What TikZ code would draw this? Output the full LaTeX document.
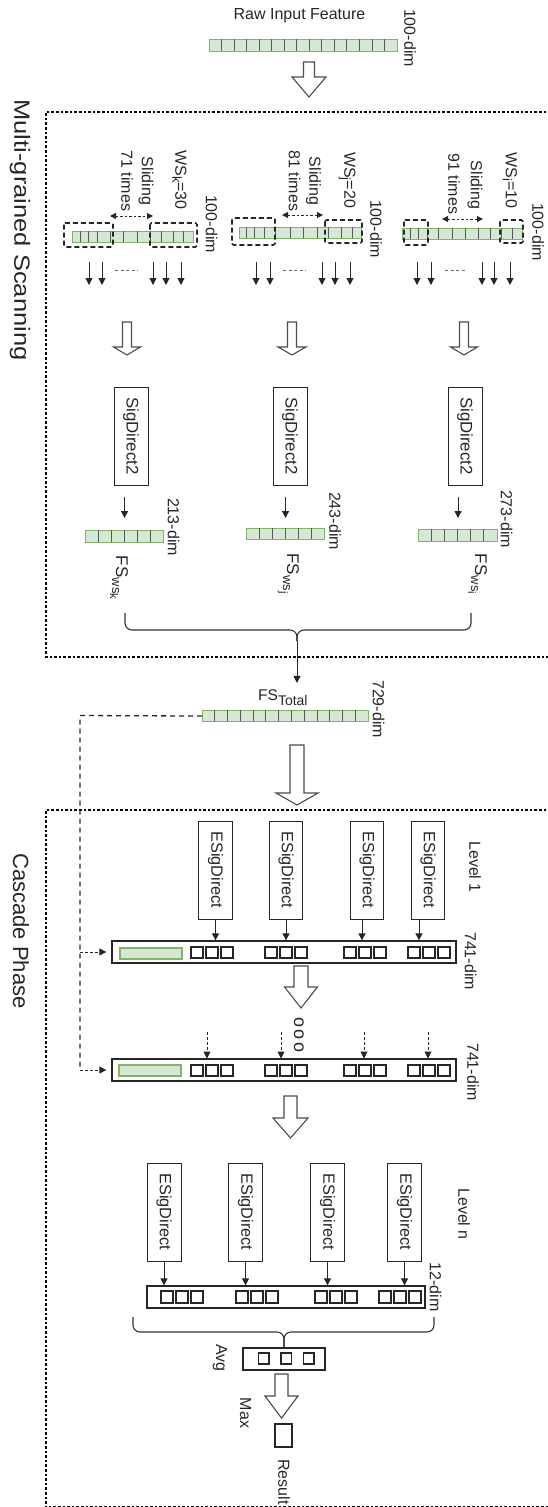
\documentclass[tikz,border=0pt]{standalone}
\usepackage{fontspec}
\setmainfont{Liberation Sans}
\usetikzlibrary{arrows.meta}
\definecolor{gfill}{HTML}{D5E8D4}
\definecolor{gline}{HTML}{82B366}
\definecolor{tx}{HTML}{262626}
\newcommand\fsz[1]{\fontsize{#1}{#1}\selectfont}
\newcommand\vt[1]{\rotatebox{-90}{#1}}
\tikzset{
 txt/.style={inner sep=0pt, text=tx, font=\fsz{16}},
 dotbox/.style={line width=2.6pt, dash pattern=on 2.6pt off 2pt, draw=black},
 winbox/.style={draw=black!85, line width=1.7pt, dash pattern=on 5pt off 3pt, rounded corners=1.5pt},
 gbar/.style={fill=gfill, draw=gline, line width=1.1pt},
 cellline/.style={draw=black!65, line width=0.8pt},
 procbox/.style={draw=black!85, line width=0.9pt, inner sep=0pt, text=tx, font=\fsz{16.3}},
 rowbox/.style={draw=tx, line width=1.3pt, inner sep=0pt},
 sq/.style={draw=tx, line width=1.2pt},
 harrow/.style={draw=black!70, line width=1.1pt, fill=white, line join=miter},
 arr/.style={-{Triangle[length=7pt,width=7pt]}, line width=1pt, black!85},
 darr/.style={{Triangle[length=6pt,width=6pt]}-{Triangle[length=6pt,width=6pt]}, line width=1pt, dash pattern=on 2.5pt off 2pt, black!85},
 dl/.style={line width=1.3pt, dash pattern=on 5pt off 4pt, black!85},
 dla/.style={-{Triangle[length=7pt,width=7pt]}, line width=1pt, dash pattern=on 3pt off 2pt, black!85},
 brace/.style={line width=1.1pt, black!80, rounded corners=7pt},
 dashes/.style={line width=0.9pt, dash pattern=on 3pt off 2.5pt, black!60},
}
% hollow block arrow: cx, top, headstart, tip, shaft half width, head half width
\newcommand\harr[6]{\draw[harrow] ({#1-#5},#2) -- ({#1+#5},#2) -- ({#1+#5},#3) -- ({#1+#6},#3) -- (#1,#4) -- ({#1-#6},#3) -- ({#1-#5},#3) -- cycle;}
% green bar with evenly spaced cells: name, x1, y1, x2, y2, number of dividers
\newcommand\cellbar[6]{%
 \node[gbar, inner sep=0pt, minimum width={(#4-#2)*1pt}, minimum height={(#5-#3)*1pt}, anchor=north west] (#1) at (#2,#3) {};
 \pgfmathsetmacro\cw{(#4-#2)/(#6+1)}
 \foreach \k in {1,...,#6} {\draw[cellline] ({#2+\k*\cw},#3) -- ({#2+\k*\cw},#5);}
}
% three small squares: x start, y1, y2, size, step
\newcommand\sqgroup[5]{%
 \foreach \k in {0,1,2} {\draw[sq] ({#1+\k*#5},#2) rectangle ({#1+\k*#5+#4},#3);}
}
\begin{document}
\begin{tikzpicture}[x=1pt,y=-1pt]
\useasboundingbox (0,0) rectangle (547,1507);

% ---------- input ----------
\node[txt, anchor=base] (raw) at (299.5,19.5) {Raw Input Feature};
\cellbar{rawbar}{209}{39}{397}{51}{14}
\node[txt] (d0) at (410,38) {\vt{100-dim}};
\harr{309}{62}{77}{97}{5.5}{17}

% ---------- multi-grained scanning ----------
\draw[dotbox] (560,112) -- (46,112) -- (46,657) -- (560,657);
\node[txt] (mgs) at (20,230) {\vt{\scalebox{1.16}[1]{\fsz{22}Multi-grained Scanning}}};

% column k
\node[gbar, inner sep=0pt, minimum width=121pt, minimum height=11pt, anchor=north west] (wk) at (72,231) {};
\foreach \x in {80,88,97,110,123,137,150,161,173,183} {\draw[cellline] (\x,231) -- (\x,242);}
\draw[winbox] (64,223) rectangle (113,247);
\draw[winbox] (150,223) rectangle (197,247);
\node[txt] (wsk) at (179.5,180) {\vt{WS\raisebox{-3pt}{\fsz{13}k}=30}};
\node[txt] (slk) at (146,181) {\vt{Sliding}};
\node[txt] (tk) at (127,181) {\vt{71 times}};
\node[txt] (dk) at (211.5,224) {\vt{100-dim}};
\draw[darr] (110,216) -- (153,216);
\foreach \x in {89,102,153,166,181} {\draw[arr] (\x,262) -- (\x,285);}
\draw[dashes] (115,270) -- (138,270);

% column j
\node[gbar, inner sep=0pt, minimum width=122pt, minimum height=11pt, anchor=north west] (wj) at (239,227) {};
\foreach \x in {246,254,264,275,290,303,317,328,341,352} {\draw[cellline] (\x,227) -- (\x,238);}
\draw[winbox] (232,218) rectangle (275,245);
\draw[winbox] (325,220) rectangle (362,243);
\node[txt] (wsj) at (347,180) {\vt{WS\raisebox{-3pt}{\fsz{13}j}=20}};
\node[txt] (slj) at (313.5,181) {\vt{Sliding}};
\node[txt] (tj) at (294.5,181) {\vt{81 times}};
\node[txt] (dj) at (376,229) {\vt{100-dim}};
\draw[darr] (282,215) -- (323,215);
\foreach \x in {256,270,322,335,350} {\draw[arr] (\x,262) -- (\x,285);}
\draw[dashes] (283,270) -- (306,270);

% column i
\node[gbar, inner sep=0pt, minimum width=120pt, minimum height=11pt, anchor=north west] (wi) at (402,228) {};
\foreach \x in {410,418,427,438,452,465,478,490,501,512} {\draw[cellline] (\x,228) -- (\x,239);}
\draw[winbox] (404,220) rectangle (428,245);
\draw[winbox] (500,220) rectangle (523,243);
\node[txt] (wsi) at (510,180.5) {\vt{WS\raisebox{-3pt}{\fsz{13}i}=10}};
\node[txt] (sli) at (475,185) {\vt{Sliding}};
\node[txt] (ti) at (454,184) {\vt{91 times}};
\node[txt] (di) at (538,232) {\vt{100-dim}};
\draw[darr] (442,219) -- (483,219);
\foreach \x in {417,431,482,494,510} {\draw[arr] (\x,262) -- (\x,285);}
\draw[dashes] (445,270) -- (466,270);

% hollow arrows to SigDirect2
\harr{127}{322}{347}{355}{4.5}{13.5}
\harr{292}{322}{347}{355}{4.5}{14}
\harr{464}{322}{347}{355}{4.5}{13.5}

% SigDirect2 boxes
\node[procbox, font=\fsz{16.8}, minimum width=34pt, minimum height=98pt] (sdk) at (131,436) {\vt{SigDirect2}};
\node[procbox, font=\fsz{16.8}, minimum width=34pt, minimum height=98pt] (sdj) at (290,436) {\vt{SigDirect2}};
\node[procbox, font=\fsz{16.8}, minimum width=34pt, minimum height=98pt] (sdi) at (465,436) {\vt{SigDirect2}};

% feature vectors
\cellbar{fsk}{85}{530}{163}{542}{5}
\cellbar{fsj}{246}{528}{324}{539}{5}
\cellbar{fsi}{418}{529}{497}{541}{5}
\draw[arr, shorten <=12pt, shorten >=12pt] (sdk.south -| fsk.north) -- (fsk.north);
\draw[arr, shorten <=12pt, shorten >=10pt] (sdj.south -| fsj.north) -- (fsj.north);
\draw[arr, shorten <=12pt, shorten >=11pt] (sdi.south -| fsi.north) -- (fsi.north);
\node[txt] (dimk) at (173.5,527) {\vt{213-dim}};
\node[txt] (dimj) at (335,521) {\vt{243-dim}};
\node[txt] (dimi) at (506.5,519) {\vt{273-dim}};
\node[txt] (fskl) at (119,577.5) {\vt{\fsz{17}FS\raisebox{-4pt}{\fsz{13}ws\raisebox{-2pt}{\fsz{11}k}}}};
\node[txt] (fsjl) at (288.5,573.5) {\vt{\fsz{17}FS\raisebox{-4pt}{\fsz{13}ws\raisebox{-3pt}{\fsz{11}j}}}};
\node[txt] (fsil) at (477.5,574) {\vt{\fsz{17}FS\raisebox{-4pt}{\fsz{13}ws\raisebox{-3pt}{\fsz{11}i}}}};

% brace and concatenation
\coordinate (bs) at (297,641);
\draw[brace] (125,613) -- (125,630) -- (297,630) -- (bs);
\draw[brace] (471,613) -- (471,630) -- (297,630) -- (bs);

\node[txt, anchor=base west, font=\fsz{15.5}] (fstl) at (258,700) {FS\raisebox{-5pt}{\fsz{14}Total}};
\draw[arr, shorten >=6pt] (bs) -- (bs |- fstl.north);
\cellbar{fst}{202}{710}{368}{721}{12}
\node[txt] (d729) at (378.5,709) {\vt{729-dim}};
\harr{297}{745}{793}{805}{7}{21}

% ---------- cascade phase ----------
\draw[dotbox] (560,810) -- (46,810) -- (46,1507.6) -- (560,1507.6);
\node[txt] (cp) at (21,931) {\vt{\fsz{22}Cascade Phase}};

% level 1
\node[procbox, minimum width=33.5pt, minimum height=98pt] (e1) at (215.5,870) {\vt{ESigDirect}};
\node[procbox, minimum width=33.5pt, minimum height=98pt] (e2) at (286,870) {\vt{ESigDirect}};
\node[procbox, minimum width=33.5pt, minimum height=98pt] (e3) at (367,870) {\vt{ESigDirect}};
\node[procbox, minimum width=33.5pt, minimum height=98pt] (e4) at (428,870) {\vt{ESigDirect}};
\node[txt] (lv1) at (475,867) {\vt{Level 1}};

\node[rowbox, minimum width=344pt, minimum height=22pt] (row1) at (284,952) {};
\draw[gbar] (120,948) rectangle (182,959);
\foreach \g in {191,265,344,408} {\sqgroup{\g}{947}{958}{12}{15}}
\draw[arr] (e1.south) -- (e1.south |- row1.north);
\draw[arr] (e2.south) -- (e2.south |- row1.north);
\draw[arr] ([xshift=-5pt]e3.south) -- ([xshift=-5pt]e3.south |- row1.north);
\draw[arr] ([xshift=-9pt]e4.south) -- ([xshift=-9pt]e4.south |- row1.north);
\node[txt] (d741a) at (470.5,961) {\vt{741-dim}};

\harr{301}{966}{987}{1008}{7}{16.5}
\node[txt] (dots) at (299,1035) {\vt{\fsz{18}o\kern2.5pt o\kern2.5pt o}};

\node[rowbox, minimum width=344pt, minimum height=22pt] (row2) at (284,1070) {};
\draw[gbar] (119,1065) rectangle (181,1076);
\foreach \g in {191,265,344,408} {\sqgroup{\g}{1065}{1076}{12}{15}}
\foreach \x in {207,281,364,428} {\draw[dla] (\x,1032) -- (\x,1058.5);}
\node[txt] (d741b) at (473,1072) {\vt{741-dim}};

% dashed reuse of FS_Total
\coordinate (dc) at (80,715.5);
\draw[dl] (fst.west) -- (dc) -- (dc |- row2.west);
\draw[dla, shorten >=5pt] (dc |- row1.west) -- (row1.west);
\draw[dla, shorten >=5pt] (dc |- row2.west) -- (row2.west);

\harr{290.5}{1096}{1118}{1138}{6.5}{17.5}

% level n
\node[procbox, minimum width=34pt, minimum height=98pt] (n1) at (164,1212) {\vt{ESigDirect}};
\node[procbox, minimum width=34pt, minimum height=98pt] (n2) at (245.5,1212) {\vt{ESigDirect}};
\node[procbox, minimum width=34pt, minimum height=98pt] (n3) at (327.5,1212) {\vt{ESigDirect}};
\node[procbox, minimum width=34pt, minimum height=98pt] (n4) at (404.5,1212) {\vt{ESigDirect}};
\node[txt] (lvn) at (464,1214) {\vt{Level n}};

\node[rowbox, minimum width=278pt, minimum height=22pt] (row3) at (286,1297) {};
\foreach \g in {161,236,315,379} {\sqgroup{\g}{1291}{1303}{12}{15}}
\foreach \n in {n1,n2,n3,n4} {\draw[arr] (\n.south) -- (\n.south |- row3.north);}
\node[txt] (d12) at (435.5,1287) {\vt{12-dim}};

% average
\node[rowbox, minimum width=82pt, minimum height=22pt] (avg) at (284,1359) {};
\sqgroup{258.5}{1353}{1364}{10.5}{22.5}
\coordinate (bc) at (284,1332);
\draw[brace] (133,1317) -- (133,1332) -- (bc) -- (avg.north);
\draw[brace] (434,1317) -- (434,1332) -- (bc) -- (avg.north);
\node[txt] (avgl) at (220,1358) {\vt{Avg}};

\harr{281.5}{1374}{1396}{1418}{6.5}{16.5}
\node[txt] (maxl) at (245.5,1413) {\vt{Max}};
\node[rowbox, minimum width=17pt, minimum height=23pt] (res) at (283.5,1435.5) {};
\node[txt] (resl) at (284,1482) {\vt{Result}};
\end{tikzpicture}
\end{document}
